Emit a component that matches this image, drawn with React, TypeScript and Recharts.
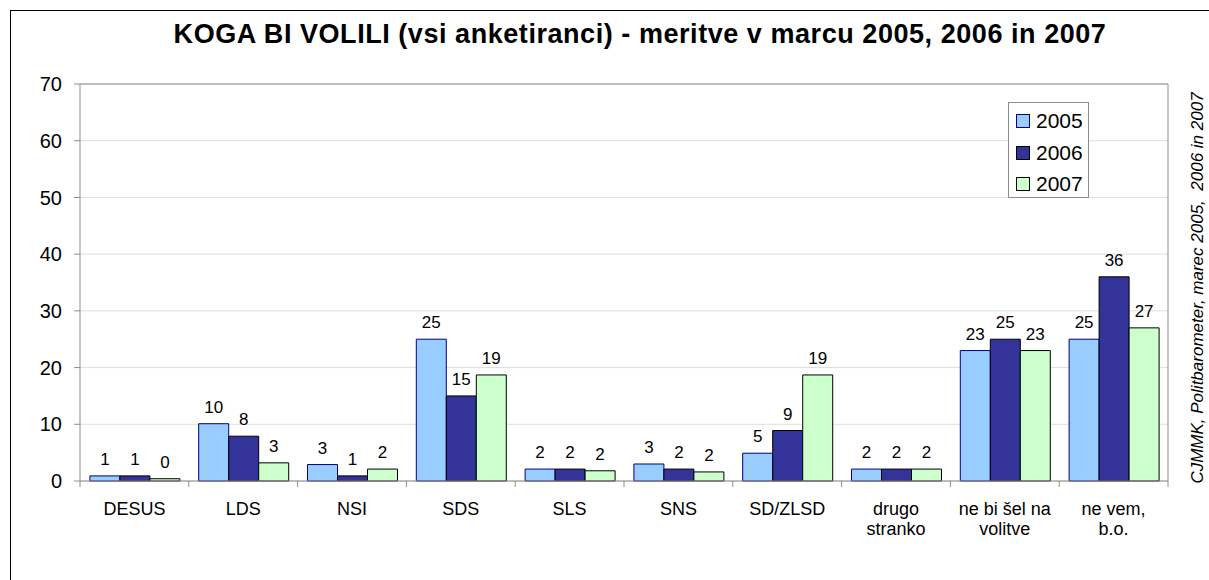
import React from 'react';
import { BarChart, Bar, XAxis, YAxis, CartesianGrid, LabelList, ReferenceLine } from 'recharts';

const categories = ['DESUS', 'LDS', 'NSI', 'SDS', 'SLS', 'SNS', 'SD/ZLSD', 'drugo\nstranko', 'ne bi šel na\nvolitve', 'ne vem,\nb.o.'];
const values2005 = [0.9, 10.1, 2.9, 25.0, 2.1, 3.0, 4.9, 2.1, 23.0, 25.0];
const values2006 = [0.9, 7.9, 0.9, 15.0, 2.1, 2.1, 8.9, 2.1, 25.0, 36.0];
const values2007 = [0.4, 3.2, 2.1, 18.7, 1.8, 1.6, 18.7, 2.1, 23.0, 27.0];
const seriesNames = ['2005', '2006', '2007'];
const yTicks = [0, 10, 20, 30, 40, 50, 60, 70];
const title = 'KOGA BI VOLILI (vsi anketiranci) - meritve v marcu 2005, 2006 in 2007';
const sideNote = 'CJMMK, Politbarometer, marec 2005,  2006 in 2007';

const data = categories.map((c, i) => ({ cat: c, y2005: values2005[i], y2006: values2006[i], y2007: values2007[i] }));

const COLORS = ['#99CCFF', '#333399', '#CCFFCC'];
const STROKES = ['#000080', '#000000', '#000000'];
const FONT = '"Liberation Sans", Arial, sans-serif';

const PLOT_LEFT = 80;
const PLOT_RIGHT = 1168;
const PLOT_TOP = 84;
const PLOT_BOTTOM = 481;
const BAND = (PLOT_RIGHT - PLOT_LEFT) / categories.length;

const CatTick = (props: any) => {
  const { x, payload, index } = props;
  const lines = String(payload.value).split('\n');
  const half = BAND / 2;
  return (
    <g>
      <line x1={x - half} x2={x - half} y1={PLOT_BOTTOM} y2={PLOT_BOTTOM + 6} stroke="#8c8c8c" />
      {index === categories.length - 1 && (
        <line x1={x + half} x2={x + half} y1={PLOT_BOTTOM} y2={PLOT_BOTTOM + 6} stroke="#8c8c8c" />
      )}
      <text x={x} y={PLOT_BOTTOM + 34} textAnchor="middle" fontSize={18} fill="#000" fontFamily={FONT}>
        {lines.map((l, i) => (
          <tspan key={i} x={x} dy={i === 0 ? 0 : 20}>{l}</tspan>
        ))}
      </text>
    </g>
  );
};

const fmt = (v: any) => Math.round(Number(v));

export default function App() {
  return (
    <div style={{ position: 'absolute', left: 0, top: 0, width: 1209, height: 580, overflow: 'hidden', background: '#fff', fontFamily: FONT }}>
      <div style={{ position: 'absolute', left: 10, top: 10, width: 1300, height: 700, borderLeft: '1px solid #000', borderTop: '1px solid #000' }} />
      <div style={{ position: 'absolute', left: 0, top: 19, width: 1280, textAlign: 'center', fontSize: 27, fontWeight: 'bold', color: '#000', whiteSpace: 'nowrap', letterSpacing: '0.55px' }}>
        {title}
      </div>
      <div style={{ position: 'absolute', left: 0, top: 0 }}>
        <BarChart
          width={1209}
          height={580}
          data={data}
          margin={{ top: PLOT_TOP, right: 1209 - PLOT_RIGHT - 1, bottom: 580 - PLOT_BOTTOM - 60, left: PLOT_LEFT - 70 }}
          barCategoryGap="9.1%"
          barGap={0}
        >
          <CartesianGrid horizontal vertical={false} stroke="#dedede" />
          <XAxis dataKey="cat" height={60} tick={<CatTick />} tickLine={false} axisLine={{ stroke: '#8c8c8c' }} interval={0} />
          <YAxis
            width={70}
            domain={[0, 70]}
            ticks={yTicks}
            tickSize={6}
            tickMargin={12}
            tick={{ fontSize: 20, fill: '#000', fontFamily: FONT }}
            axisLine={{ stroke: '#8c8c8c' }}
            tickLine={{ stroke: '#8c8c8c' }}
            interval={0}
          />
          <YAxis yAxisId="r" orientation="right" width={1} domain={[0, 70]} tick={false} tickLine={false} axisLine={{ stroke: '#8c8c8c' }} />
          <ReferenceLine y={70} stroke="#8c8c8c" />
          <Bar dataKey="y2005" fill={COLORS[0]} stroke={STROKES[0]} strokeWidth={1} isAnimationActive={false}>
            <LabelList dataKey="y2005" position="top" offset={11} formatter={fmt} fontSize={17} fill="#000" fontFamily={FONT} />
          </Bar>
          <Bar dataKey="y2006" fill={COLORS[1]} stroke={STROKES[1]} strokeWidth={1} isAnimationActive={false}>
            <LabelList dataKey="y2006" position="top" offset={11} formatter={fmt} fontSize={17} fill="#000" fontFamily={FONT} />
          </Bar>
          <Bar dataKey="y2007" fill={COLORS[2]} stroke={STROKES[2]} strokeWidth={1} isAnimationActive={false}>
            <LabelList dataKey="y2007" position="top" offset={11} formatter={fmt} fontSize={17} fill="#000" fontFamily={FONT} />
          </Bar>
        </BarChart>
      </div>
      <div style={{ position: 'absolute', left: 1008, top: 102, width: 81, height: 96, border: '1px solid #8c8c8c', boxSizing: 'border-box', background: '#fff' }}>
        {seriesNames.map((n, i) => (
          <div key={n} style={{ position: 'absolute', left: 7, top: 6 + i * 31.5, height: 24, display: 'flex', alignItems: 'center' }}>
            <div style={{ width: 12, height: 12, background: COLORS[i], border: `1px solid ${STROKES[i]}`, marginRight: 6 }} />
            <span style={{ fontSize: 21, color: '#000', lineHeight: '24px' }}>{n}</span>
          </div>
        ))}
      </div>
      <div style={{ position: 'absolute', left: 1198, top: 288, width: 0, height: 0 }}>
        <div style={{ position: 'absolute', left: 0, top: 0, transform: 'translate(-50%, -50%) rotate(-90deg)', fontSize: 17, fontStyle: 'italic', whiteSpace: 'pre', color: '#000' }}>
          {sideNote}
        </div>
      </div>
    </div>
  );
}
